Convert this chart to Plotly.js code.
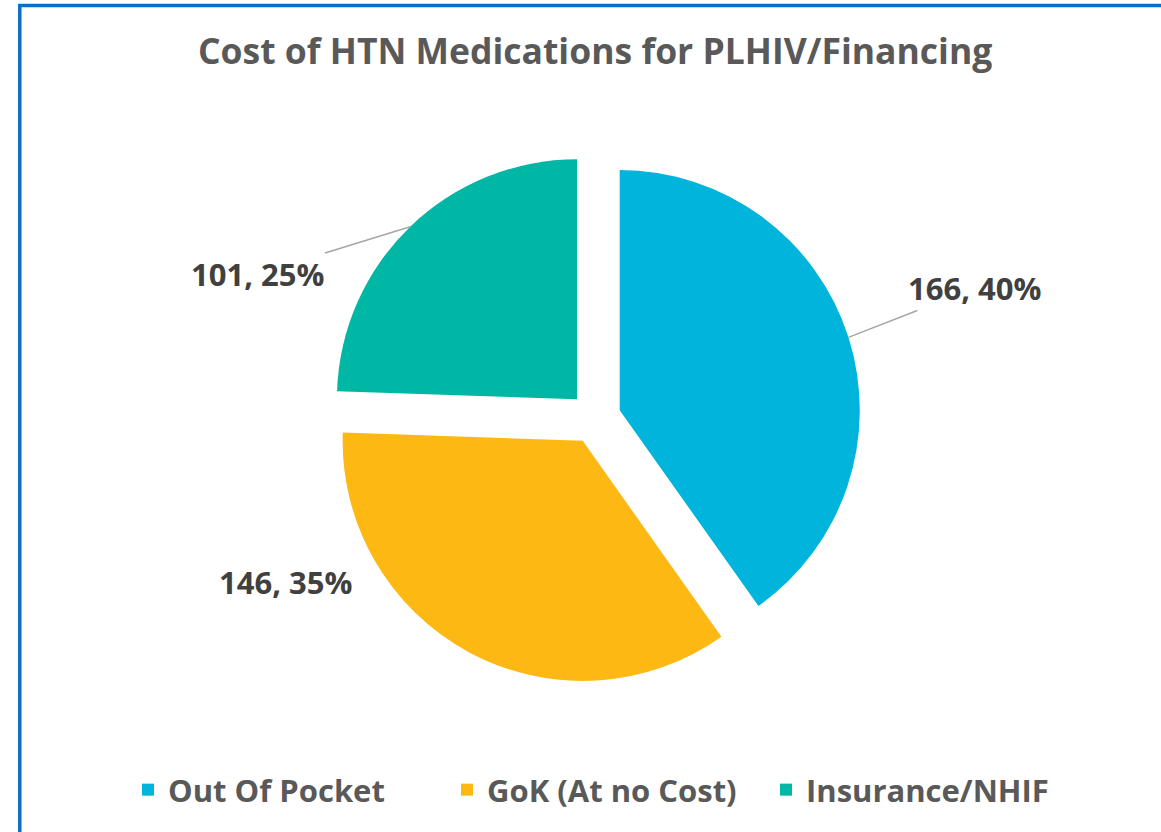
<!DOCTYPE html>
<html>
<head>
<meta charset="utf-8">
<script src="https://cdn.plot.ly/plotly-3.0.1.min.js"></script>
<style>html,body{margin:0;padding:0;background:#fff;}#chart{width:1161px;height:832px;}</style>
</head>
<body>
<div id="chart"></div>
<script>
const categories = ["Out Of Pocket", "GoK (At no Cost)", "Insurance/NHIF"];
const counts = [166, 146, 101];
const percentLabels = ["40%", "35%", "25%"];
const sliceColors = ["#00B4DC", "#FDB813", "#00B6A4"];
const chartTitle = "Cost of HTN Medications for PLHIV/Financing";

const W = 1161, H = 832;
const cx = 595, cy = 418, half = 266;   // pie domain geometry (px)
const pullFrac = 0.108;

// label layout (px): text centre, whether a leader line is drawn
const labelPos = [
  { x: 975, y: 288, leader: true },
  { x: 285, y: 582, leader: false },
  { x: 257, y: 274, leader: true }
];

const trace = {
  type: "pie",
  labels: categories,
  values: counts,
  customdata: percentLabels,
  sort: false,
  direction: "clockwise",
  rotation: 0,
  pull: pullFrac,
  marker: { colors: sliceColors, line: { width: 0 } },
  textinfo: "none",
  hovertemplate: "%{label}: %{value}, %{customdata}<extra></extra>",
  domain: {
    x: [(cx - half) / W, (cx + half) / W],
    y: [1 - (cy + half) / H, 1 - (cy - half) / H]
  },
  automargin: false
};

// data labels: text from the data arrays; leader tip on slice arc at each slice's mid-angle
const total = counts.reduce((a, b) => a + b, 0);
let cum = 0;
const annotations = counts.map((v, i) => {
  const mid = (cum + v / 2) / total * 2 * Math.PI;
  cum += v;
  const lp = labelPos[i];
  const ann = {
    text: "<b>" + v + ", " + percentLabels[i] + "</b>",
    font: { family: "Open Sans", size: 31, color: "#404040" },
    xref: "paper", yref: "paper",
    xanchor: "center", yanchor: "middle"
  };
  if (lp.leader) {
    const tipX = cx + half * Math.sin(mid);
    const tipY = cy - half * Math.cos(mid);
    ann.x = tipX / W; ann.y = 1 - tipY / H;
    ann.showarrow = true;
    ann.arrowhead = 0;
    ann.arrowwidth = 1.5;
    ann.arrowcolor = "#A6A6A6";
    ann.axref = "pixel"; ann.ayref = "pixel";
    ann.ax = lp.x - tipX; ann.ay = lp.y - tipY;
    ann.standoff = 0;
  } else {
    ann.x = lp.x / W; ann.y = 1 - lp.y / H;
    ann.showarrow = false;
  }
  return ann;
});

const layout = {
  width: W, height: H,
  margin: { l: 0, r: 0, t: 0, b: 0 },
  paper_bgcolor: "#ffffff",
  font: { family: "Open Sans", color: "#595959" },
  title: {
    text: "<b>" + chartTitle + "</b>",
    font: { family: "Open Sans", size: 35.5, color: "#595959" },
    x: 0.5126, xanchor: "center",
    y: 1 - 52 / H, yref: "container", yanchor: "middle"
  },
  showlegend: true,
  legend: {
    orientation: "h",
    x: 128 / W, xanchor: "left",
    y: 1 - 790 / H, yanchor: "middle",
    entrywidth: 274, entrywidthmode: "pixels",
    font: { family: "Open Sans", size: 31, color: "#595959", weight: "bold" },
    itemclick: false
  },
  annotations: annotations,
  shapes: [{
    type: "rect", xref: "paper", yref: "paper",
    x0: 19.8 / W, x1: 1.1, y0: -0.1, y1: 1 - 5.5 / H,
    line: { color: "#0B6FC6", width: 3.5 }
  }]
};

Plotly.newPlot("chart", [trace], layout, { displayModeBar: false, staticPlot: true });
</script>
</body>
</html>
